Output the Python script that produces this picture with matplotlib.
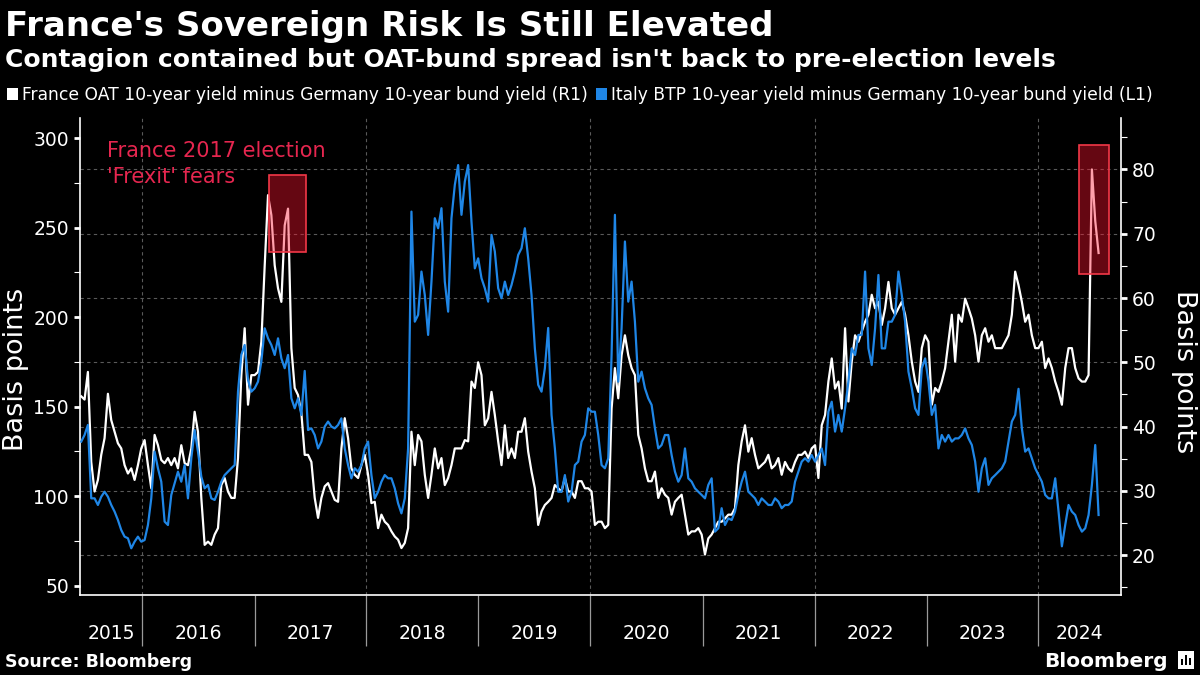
import matplotlib
matplotlib.use("Agg")
import matplotlib.pyplot as plt
import matplotlib.dates as mdates
from matplotlib.patches import Rectangle
import pandas as pd

# ---------------- data ----------------
START = "2015-06-16"
STEP = "261h"   # ~10.9 days between readings

# France OAT 10y minus German bund 10y (right axis, bp)
france = [
    44.7, 44.2, 48.5, 34.5, 29.9, 31.7, 35.6, 38.2, 45.1, 41.0,
    39.2, 37.4, 36.6, 34.0, 32.7, 33.5, 31.7, 34.0, 36.6, 37.9,
    34.0, 30.4, 38.7, 37.1, 34.8, 34.3, 35.1, 34.0, 35.1, 33.5,
    37.1, 34.3, 34.0, 36.6, 42.3, 39.2, 28.9, 21.6, 22.1, 21.6,
    23.2, 24.2, 30.9, 32.0, 29.9, 28.9, 28.9, 35.1, 48.0, 55.3,
    43.4, 48.0, 48.0, 48.5, 53.2, 65.0, 76.0, 72.9, 65.1, 61.5,
    59.4, 71.3, 73.9, 52.2,
    46.0, 44.9, 42.1, 35.6, 35.6, 34.5, 28.9, 25.8, 28.9,
    30.7, 31.2, 29.9, 28.6, 28.3, 36.6, 41.3, 38.2, 33.5, 32.5,
    32.0, 34.0, 35.6, 32.5, 28.1, 28.3, 24.2, 26.3, 25.2, 24.7,
    23.7, 22.9, 22.4, 21.1, 21.9, 24.2, 39.2, 34.0, 38.7, 37.7,
    32.5, 28.9, 32.5, 36.6, 33.5, 35.1, 30.9, 32.0, 34.0, 36.6,
    36.6, 36.6, 37.9, 37.7, 47.0, 46.0, 50.0, 48.0, 40.2, 41.3,
    45.4, 41.8, 37.7,
    34.0, 40.2, 35.1, 36.6, 35.1, 39.2, 39.2, 41.3, 36.1, 33.0,
    30.4, 24.7, 26.8, 27.8, 28.3, 28.9, 30.9, 30.4, 29.9, 32.0,
    29.9, 29.9, 28.9, 31.5, 31.5, 30.4, 30.4, 29.9, 24.7, 25.2,
    25.2, 24.2, 24.7, 42.8, 49.1, 44.4, 51.1, 54.2, 51.1, 49.1,
    48.0, 38.7, 36.6, 33.5, 31.5, 31.5, 33.0, 28.9, 30.4, 29.4,
    28.9, 26.3, 28.3, 28.9, 29.4, 26.3, 23.2, 23.7, 23.7, 24.2,
    23.2, 20.1, 22.6,
    23.2, 24.2, 25.2, 25.2, 25.7, 26.3, 26.3, 27.3, 34.0, 37.7,
    40.2, 36.1, 38.2, 35.6, 33.5, 34.0, 34.5, 35.6, 33.5, 34.0,
    35.1, 32.5, 34.5, 33.5, 33.0, 34.5, 35.6, 35.6, 36.1, 35.1,
    36.6, 37.1, 32.0, 40.2, 41.8, 47.0, 50.6, 45.9, 47.0, 42.8,
    55.3, 43.9, 50.1, 54.2, 53.2, 54.8, 56.3, 57.4, 60.5, 58.4,
    59.4, 55.8, 58.4, 62.5, 58.4, 57.4, 58.4, 59.4, 57.4, 54.2,
    50.1, 47.0, 45.4,
    52.2, 54.2, 53.2, 43.4, 46.0, 45.4, 47.0, 49.1, 53.2, 57.4,
    50.1, 57.4, 56.3, 59.9, 58.4, 56.8, 54.2, 50.1, 54.2, 55.3,
    53.2, 54.2, 52.2, 52.2, 52.2, 53.2, 54.2, 57.4, 64.1, 62.0,
    59.4, 56.3, 57.4, 54.2, 52.2, 52.2, 53.2, 49.1, 50.6, 49.1,
    47.0, 45.4, 43.4, 49.1, 52.2, 52.2, 49.1, 47.5, 47.0, 47.0,
    48.0, 80.0, 72.0, 67.0,
]

# Italy BTP 10y minus German bund 10y (left axis, bp)
italy = [
    130.5, 134.2, 139.8, 98.8, 98.8, 95.1, 99.7, 102.5, 99.7, 95.1,
    91.4, 86.7, 81.1, 77.4, 76.5, 70.9, 74.6, 77.4, 74.6, 75.5,
    83.9, 98.8, 124.9, 115.6, 108.1, 85.8, 83.9, 100.7, 107.2, 113.7,
    108.1, 117.4, 98.8, 121.2, 137.0, 124.9, 110.9, 104.4, 106.3, 98.8,
    97.9, 102.5, 108.1, 111.8, 113.7, 115.6, 117.4, 158.4, 179.0, 184.5,
    164.9, 158.4, 160.3, 164.0, 175.2, 193.8, 188.2, 184.5, 178.9, 188.2,
    177.0, 171.5, 178.9, 154.7,
    149.1, 154.7, 145.4, 170.0, 137.0, 137.9, 134.2, 126.7, 130.5,
    138.9, 141.7, 138.9, 137.9, 139.8, 143.5, 126.7, 117.4, 110.0, 115.6,
    113.7, 117.4, 126.7, 130.5, 111.8, 98.8, 102.5, 108.1, 111.8, 110.0,
    110.0, 104.4, 96.0, 90.4, 98.8, 126.7, 259.0, 197.5, 201.3, 225.5,
    212.4, 190.1, 219.9, 255.3, 249.7, 260.9, 219.9, 203.1, 255.3, 273.9,
    285.0, 257.2, 275.8, 285.0, 253.4, 227.3, 232.9, 221.8, 216.2, 208.7,
    246.0, 236.7, 216.2,
    210.6, 219.9, 212.4, 218.0, 225.5, 234.8, 238.5, 249.7, 232.9, 212.4,
    182.6, 162.2, 158.4, 171.5, 194.0, 145.4, 126.7, 102.5, 102.5, 111.8,
    97.0, 102.5, 117.4, 119.3, 130.5, 134.2, 149.1, 147.2, 147.2, 134.2,
    117.4, 115.6, 121.2, 178.9, 257.2, 164.0, 193.8, 242.3, 208.7, 219.9,
    197.5, 164.0, 169.6, 160.3, 154.7, 151.0, 138.0, 126.7, 128.6, 134.2,
    134.2, 123.0, 113.7, 108.1, 111.8, 126.7, 110.0, 108.1, 104.4, 102.5,
    100.7, 98.8, 106.3,
    110.0, 80.2, 82.1, 93.3, 83.9, 87.6, 86.7, 91.4, 100.7, 108.1,
    113.7, 102.5, 100.7, 98.8, 95.1, 98.8, 97.0, 95.1, 95.1, 98.8,
    97.0, 93.3, 95.1, 95.1, 97.0, 108.1, 113.7, 119.3, 121.2, 119.3,
    123.0, 119.3, 123.0, 126.7, 117.4, 147.2, 152.8, 136.1, 145.4, 136.1,
    149.1, 164.0, 182.6, 178.9, 190.1, 190.1, 225.5, 182.6, 173.3, 193.8,
    223.6, 182.6, 182.6, 197.5, 197.5, 201.3, 225.5, 212.4, 197.5, 169.6,
    160.3, 149.1, 145.4,
    171.5, 177.0, 164.0, 145.4, 151.0, 126.7, 134.2, 130.5, 134.2, 130.5,
    132.3, 132.3, 134.2, 137.9, 132.3, 128.6, 119.3, 102.5, 115.6, 121.2,
    106.3, 110.0, 111.8, 113.7, 115.6, 119.3, 130.5, 141.7, 145.4, 160.0,
    137.9, 124.9, 126.7, 121.2, 115.6, 111.8, 108.1, 100.7, 98.8, 98.8,
    110.0, 91.4, 72.0, 83.9, 95.1, 91.4, 89.5, 83.9, 80.2, 82.1,
    89.5, 106.3, 128.6, 89.5,
]

assert len(france) == len(italy)

years = list(range(2015, 2025))
x_start, x_end = "2015-06-12", "2024-09-26"
left_ticks = [50, 100, 150, 200, 250, 300]
right_ticks = [20, 30, 40, 50, 60, 70, 80]

# highlighted periods (dates, right-axis bp)
box1 = ("2017-02-18", "2017-06-19", 67.2, 79.2)
box2 = ("2024-05-13", "2024-08-18", 63.8, 83.8)

title = "France's Sovereign Risk Is Still Elevated"
subtitle = "Contagion contained but OAT-bund spread isn't back to pre-election levels"
leg_fr = "France OAT 10-year yield minus Germany 10-year bund yield (R1)"
leg_it = "Italy BTP 10-year yield minus Germany 10-year bund yield (L1)"
annot = "France 2017 election\n'Frexit' fears"

# ---------------- drawing ----------------
BLUE = "#1f86e6"
RED_TXT = "#e6264f"
plt.rcParams["font.family"] = ["DejaVu Sans"]

dates = pd.date_range(START, periods=len(france), freq=STEP)
W, H = 1200, 675
fig = plt.figure(figsize=(12, 6.75), dpi=100, facecolor="black")
ax2 = fig.add_axes([80 / W, 80 / H, 1041 / W, 477 / H])   # base axes: x axis + right axis (France)
ax2.set_facecolor("black")
ax = ax2.twinx()                                           # left axis (Italy)
ax.yaxis.tick_left()
ax.yaxis.set_label_position("left")
ax2.yaxis.tick_right()
ax2.yaxis.set_label_position("right")
ax.set_zorder(ax2.get_zorder() + 1)
ax.patch.set_visible(False)

ax2.plot(dates, france, color="white", lw=1.6, zorder=3, solid_joinstyle="round")
ax.plot(dates, italy, color=BLUE, lw=1.6, zorder=3, solid_joinstyle="round")

xmin, xmax = pd.Timestamp(x_start), pd.Timestamp(x_end)
ax2.set_xlim(xmin, xmax)
ax.set_ylim(44.8, 311.3)
ax2.set_ylim(13.8, 88.0)

# grid: horizontal at right-axis ticks, vertical every two years
for v in right_ticks:
    ax2.axhline(v, color="#5a5a5a", lw=0.8, ls=(0, (3, 3)), zorder=1)
for y in years[1::2]:
    ax2.axvline(pd.Timestamp(f"{y}-01-01"), color="#5a5a5a", lw=0.8, ls=(0, (3, 3)), zorder=1)

# spines
for a in (ax, ax2):
    for s in a.spines.values():
        s.set_visible(False)
ax.spines["left"].set_visible(True)
ax2.spines["bottom"].set_visible(True)
ax2.spines["right"].set_visible(True)
for a, s in ((ax, "left"), (ax2, "bottom"), (ax2, "right")):
    a.spines[s].set_color("white")
    a.spines[s].set_linewidth(1.2)

# y ticks
ax.set_yticks(left_ticks)
ax.set_yticks([v + 25 for v in left_ticks[:-1]], minor=True)
ax.tick_params(axis="y", which="major", colors="white", labelsize=13.5, length=4, width=2, pad=4)
ax.tick_params(axis="y", which="minor", colors="white", length=4, width=0.8)
ax2.set_yticks(right_ticks)
ax2.set_yticks([v - 5 for v in right_ticks] + [right_ticks[-1] + 5], minor=True)
ax2.tick_params(axis="y", which="major", colors="white", labelsize=13.5, length=4, width=2, pad=4)
ax2.tick_params(axis="y", which="minor", colors="white", length=4, width=0.8)

# x ticks: long separators at year starts, year labels centred in each year span
bounds = [pd.Timestamp(f"{y}-01-01") for y in years[1:]]
ax2.set_xticks(bounds)
ax2.xaxis.set_major_formatter(plt.NullFormatter())
edges = [xmin] + bounds + [xmax]
centers = [edges[i] + (edges[i + 1] - edges[i]) / 2 for i in range(len(years))]
ax2.set_xticks(centers, minor=True)
ax2.set_xticklabels([str(y) for y in years], minor=True)
ax2.tick_params(axis="x", which="major", colors="#9a9a9a", length=37, width=0.9, direction="out")
ax2.tick_params(axis="x", which="minor", length=0, labelsize=13.5, labelcolor="white", pad=21)

# highlight boxes (drawn above the lines, in right-axis units)
for (d0, d1, y0, y1) in (box1, box2):
    x0 = mdates.date2num(pd.Timestamp(d0))
    x1 = mdates.date2num(pd.Timestamp(d1))
    ax.add_patch(Rectangle((x0, y0), x1 - x0, y1 - y0, transform=ax2.transData,
                           facecolor=(1.0, 0.07, 0.18, 0.40), edgecolor=(0.95, 0.22, 0.28, 1.0),
                           lw=1.2, zorder=5))

ax.text(0.026, 0.952, annot, transform=ax.transAxes, color=RED_TXT, fontsize=15,
        va="top", ha="left", linespacing=1.4, zorder=6)

# titles
fig.text(5 / W, 1 - 36 / H, title, color="white", fontsize=24.5, fontweight="bold",
         va="baseline", ha="left")
fig.text(5 / W, 1 - 67 / H, subtitle, color="white", fontsize=18, fontweight="bold",
         va="baseline", ha="left")

# legend
fig.patches.append(Rectangle((7 / W, 1 - 100 / H), 11 / W, 12 / H, transform=fig.transFigure,
                             facecolor="white", edgecolor="none"))
fig.text(22 / W, 1 - 100 / H, leg_fr, color="white", fontsize=12.3, va="baseline", ha="left")
fig.patches.append(Rectangle((596 / W, 1 - 100 / H), 11 / W, 12 / H, transform=fig.transFigure,
                             facecolor=BLUE, edgecolor="none"))
fig.text(611 / W, 1 - 100 / H, leg_it, color="white", fontsize=12.3, va="baseline", ha="left")

# axis titles
fig.text(16 / W, 1 - 369 / H, "Basis points", color="white", fontsize=19.5, rotation=90,
         va="center", ha="center")
fig.text(1184 / W, 1 - 372 / H, "Basis points", color="white", fontsize=19.5, rotation=270,
         va="center", ha="center")

# footer
fig.text(5 / W, 1 - 667 / H, "Source: Bloomberg", color="white", fontsize=12.5,
         fontweight="bold", va="baseline", ha="left")
fig.text(1168 / W, 1 - 667 / H, "Bloomberg", color="white", fontsize=14.5,
         fontweight="bold", va="baseline", ha="right")
fig.patches.append(Rectangle((1178 / W, 1 - 669 / H), 16 / W, 18 / H, transform=fig.transFigure,
                             facecolor="white", edgecolor="none"))
for i, hgt in enumerate((6, 10, 7)):
    fig.patches.append(Rectangle(((1181 + 4 * i) / W, 1 - 665 / H), 2 / W, hgt / H,
                                 transform=fig.transFigure, facecolor="black", edgecolor="none"))

fig.savefig("out.png", dpi=100, facecolor="black")
